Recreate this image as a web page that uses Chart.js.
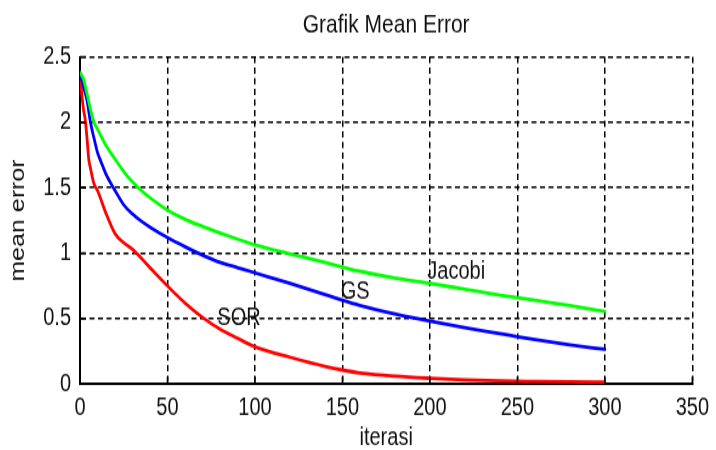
<!DOCTYPE html>
<html>
<head>
<meta charset="utf-8">
<script src="https://cdn.jsdelivr.net/npm/chart.js@4.4.1/dist/chart.umd.min.js"></script>
<style>
  html, body { margin: 0; padding: 0; background: #fff; overflow: hidden; }
  #wrap { position: absolute; left: 0; top: 0; width: 716px; height: 360px;
          transform: scaleY(1.25); transform-origin: 0 0; }
</style>
</head>
<body>
<div id="wrap"><canvas id="c"></canvas></div>
<script>
// ---- data ----
const chartTitle = 'Grafik Mean Error';
const xTitle = 'iterasi';
const yTitle = 'mean error';

const jacobiIter = [0, 2, 4, 6, 8, 10, 15, 20, 25, 30, 35, 40, 50, 60, 70, 80, 90, 100, 120, 140, 150, 160, 180, 200, 220, 240, 250, 260, 280, 300];
const jacobiErr  = [2.38, 2.33, 2.22, 2.10, 2.00, 1.95, 1.82, 1.72, 1.625, 1.545, 1.48, 1.425, 1.33, 1.26, 1.205, 1.155, 1.108, 1.063, 0.995, 0.93, 0.895, 0.862, 0.81, 0.77, 0.725, 0.68, 0.66, 0.64, 0.60, 0.555];

const gsIter = [0, 2, 4, 6, 8, 10, 12, 15, 20, 25, 30, 35, 40, 50, 60, 70, 80, 90, 100, 120, 140, 150, 160, 180, 200, 220, 240, 250, 260, 280, 300];
const gsErr  = [2.38, 2.27, 2.17, 2.00, 1.88, 1.77, 1.70, 1.60, 1.48, 1.37, 1.30, 1.245, 1.20, 1.12, 1.05, 0.985, 0.93, 0.89, 0.85, 0.77, 0.685, 0.64, 0.60, 0.535, 0.48, 0.43, 0.385, 0.362, 0.34, 0.30, 0.265];

const sorIter = [0, 1, 2, 3, 4, 5, 6, 8, 10, 15, 20, 25, 30, 40, 50, 60, 70, 80, 90, 100, 120, 140, 150, 160, 180, 200, 220, 240, 260, 280, 300];
const sorErr  = [2.38, 2.22, 2.10, 2.02, 1.88, 1.72, 1.65, 1.53, 1.48, 1.30, 1.15, 1.08, 1.03, 0.89, 0.75, 0.62, 0.51, 0.42, 0.35, 0.285, 0.205, 0.135, 0.107, 0.085, 0.06, 0.044, 0.032, 0.024, 0.02, 0.017, 0.015];

const seriesNames = ['Jacobi', 'GS', 'SOR'];
const labelAtIter = [198.5, 149, 78.5];
const labelAtErr  = [0.855, 0.703, 0.505];

const xTicks = [0, 50, 100, 150, 200, 250, 300, 350];
const yTicks = [0, 0.5, 1, 1.5, 2, 2.5];

// ---- chart ----
const FONT = "'Liberation Sans', Arial, Helvetica, sans-serif";
const toPts = (xs, ys) => xs.map((x, i) => ({ x: x, y: ys[i] }));

const innerTicks = {
  id: 'innerTicks',
  afterDraw(chart) {
    const { ctx, chartArea: a, scales: { x, y } } = chart;
    ctx.save();
    ctx.strokeStyle = '#000';
    ctx.lineWidth = 1.5;
    ctx.beginPath();
    xTicks.forEach(v => { const px = x.getPixelForValue(v); ctx.moveTo(px, a.bottom); ctx.lineTo(px, a.bottom - 6); });
    yTicks.forEach(v => { const py = y.getPixelForValue(v); ctx.moveTo(a.left, py); ctx.lineTo(a.left + 6, py); });
    ctx.stroke();
    ctx.restore();
  }
};

const seriesLabels = {
  id: 'seriesLabels',
  afterDatasetsDraw(chart) {
    const { ctx, scales: { x, y } } = chart;
    ctx.save();
    ctx.font = '20px ' + FONT;
    ctx.fillStyle = '#111';
    ctx.textAlign = 'left';
    ctx.textBaseline = 'middle';
    seriesNames.forEach((n, i) => {
      ctx.fillText(n, x.getPixelForValue(labelAtIter[i]), y.getPixelForValue(labelAtErr[i]));
    });
    ctx.restore();
  }
};

new Chart(document.getElementById('c'), {
  type: 'line',
  data: {
    datasets: [
      { label: seriesNames[0], data: toPts(jacobiIter, jacobiErr), borderColor: '#00ff00' },
      { label: seriesNames[1], data: toPts(gsIter, gsErr), borderColor: '#0000ff' },
      { label: seriesNames[2], data: toPts(sorIter, sorErr), borderColor: '#ff0000' }
    ]
  },
  options: {
    responsive: true,
    maintainAspectRatio: false,
    animation: false,
    devicePixelRatio: 1,
    layout: { padding: { left: 0, right: 20, top: 0, bottom: 0 } },
    elements: {
      point: { radius: 0 },
      line: { borderWidth: 2.8, cubicInterpolationMode: 'monotone', fill: false, borderJoinStyle: 'round', borderCapStyle: 'round' }
    },
    plugins: {
      legend: { display: false },
      tooltip: { enabled: false },
      title: {
        display: true, text: chartTitle, fullSize: false,
        color: '#111', font: { family: FONT, size: 21, weight: 'normal' },
        padding: { top: 7.4, bottom: 13 }
      }
    },
    scales: {
      x: {
        type: 'linear', min: 0, max: 350,
        afterBuildTicks: s => { s.ticks = xTicks.map(v => ({ value: v })); },
        afterFit: s => { s.height = 52.8; },
        ticks: { color: '#111', font: { family: FONT, size: 20 }, padding: 7, maxRotation: 0, callback: v => String(v) },
        grid: { color: '#000', lineWidth: 1.5, drawTicks: false },
        border: { display: true, color: '#000', width: 2, dash: [5, 3.5] },
        title: { display: true, text: xTitle, color: '#111', font: { family: FONT, size: 20, lineHeight: 1 }, padding: { top: 0, bottom: 0 } }
      },
      y: {
        type: 'linear', min: 0, max: 2.5,
        afterBuildTicks: s => { s.ticks = yTicks.map(v => ({ value: v })); },
        afterFit: s => { s.width = 80; },
        ticks: { color: '#111', font: { family: FONT, size: 20 }, padding: 9, callback: v => String(v) },
        grid: { color: '#000', lineWidth: 1.5, drawTicks: false },
        border: { display: true, color: '#000', width: 2, dash: [5, 3.5] },
        title: { display: true, text: yTitle, color: '#111', font: { family: FONT, size: 20, lineHeight: 1 }, padding: { top: 8, bottom: 0 } }
      }
    }
  },
  plugins: [innerTicks, seriesLabels]
});
</script>
</body>
</html>
